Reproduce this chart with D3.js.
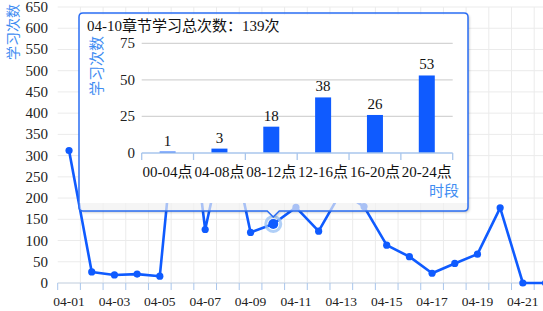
<!DOCTYPE html>
<html>
<head>
<meta charset="utf-8">
<script src="https://cdn.jsdelivr.net/npm/d3@7"></script>
<style>
  body { margin: 0; background: #fff; }
  svg { display: block; font-family: "Liberation Serif", "Noto Sans CJK SC", serif; }
</style>
</head>
<body>
<svg id="chart" width="543" height="311"></svg>
<script>
// daily totals
const days = ['04-01', '04-02', '04-03', '04-04', '04-05', '04-06', '04-07', '04-08', '04-09', '04-10', '04-11',
    '04-12', '04-13', '04-14', '04-15', '04-16', '04-17', '04-18', '04-19', '04-20', '04-21', '04-22']
const dayCounts = [312, 26, 19, 21, 16, 560, 126, 370, 119, 139, 178, 122, 215, 180, 89, 62, 23, 46, 68, 177, 0, 0]
const yTicks = d3.range(0, 651, 50)

// tooltip breakdown for hovered day
const hoverDay = '04-10'
const slots = ['00-04点', '04-08点', '08-12点', '12-16点', '16-20点', '20-24点']
const slotCounts = [1, 3, 18, 38, 26, 53]
const innerTicks = [0, 25, 50, 75]

const BLUE = '#0f5bff'
const NAME_BLUE = '#3f8df2'
const svg = d3.select('#chart')

const x = d3.scaleBand().domain(days).range([57.7, 57.7 + 22 * 22.69])
const y = d3.scaleLinear().domain([0, 650]).range([283, 7])
const cx = d => x(d) + x.bandwidth() / 2

// grid
svg.append('g').selectAll('line.h')
    .data(yTicks).enter().append('line')
    .attr('x1', x.range()[0]).attr('x2', x.range()[1])
    .attr('y1', d => y(d)).attr('y2', d => y(d))
    .style('stroke', '#ebebeb')
svg.append('g').selectAll('line.v')
    .data(days.slice(1).concat(['end'])).enter().append('line')
    .attr('x1', (d, i) => x.range()[0] + (i + 1) * x.bandwidth())
    .attr('x2', (d, i) => x.range()[0] + (i + 1) * x.bandwidth())
    .attr('y1', y(650)).attr('y2', y(0))
    .style('stroke', '#ebebeb')

// y axis labels
svg.append('g').selectAll('text')
    .data(yTicks).enter().append('text')
    .attr('x', 48).attr('y', d => y(d) + 5)
    .attr('text-anchor', 'end')
    .style('font-size', '15px').style('fill', '#222')
    .text(d => d)

svg.append('text')
    .attr('transform', 'translate(17.5,32) rotate(-90)')
    .attr('text-anchor', 'middle')
    .style('font-size', '14px').style('fill', NAME_BLUE)
    .text('学习次数')

// x axis
svg.append('line')
    .attr('x1', x.range()[0]).attr('x2', x.range()[1])
    .attr('y1', y(0)).attr('y2', y(0))
    .style('stroke', '#c9d6e6')
svg.append('g').selectAll('line')
    .data(d3.range(days.length + 1)).enter().append('line')
    .attr('x1', i => x.range()[0] + i * x.bandwidth())
    .attr('x2', i => x.range()[0] + i * x.bandwidth())
    .attr('y1', y(0)).attr('y2', y(0) + 7)
    .style('stroke', '#a9c6ec')
svg.append('g').selectAll('text')
    .data(days.filter((d, i) => i % 2 === 0)).enter().append('text')
    .attr('x', d => cx(d)).attr('y', 305.5)
    .attr('text-anchor', 'middle')
    .style('font-size', '13.5px').style('fill', '#222')
    .text(d => d)

// line + points
svg.append('path')
    .datum(dayCounts)
    .attr('d', d3.line().x((d, i) => cx(days[i])).y(d => y(d)))
    .style('fill', 'none').style('stroke', BLUE).style('stroke-width', 2.6)
    .style('stroke-linejoin', 'round')
svg.append('g').selectAll('circle')
    .data(dayCounts).enter().append('circle')
    .attr('cx', (d, i) => cx(days[i])).attr('cy', d => y(d))
    .attr('r', 3.6)
    .style('fill', BLUE)

const hi = days.indexOf(hoverDay)
svg.append('circle')
    .attr('cx', cx(hoverDay)).attr('cy', y(dayCounts[hi]))
    .attr('r', 7.5)
    .style('fill', 'none').style('stroke', '#9cc3f5').style('stroke-width', 3).style('opacity', 0.8)
svg.append('circle')
    .attr('cx', cx(hoverDay)).attr('cy', y(dayCounts[hi]))
    .attr('r', 5)
    .style('fill', BLUE)

// tooltip
const box = { l: 79, t: 13, r: 468, b: 211 }
const ax = cx(hoverDay)
const r = 4
const defs = svg.append('defs')
defs.append('filter').attr('id', 'shadow')
    .attr('x', '-5%').attr('y', '-5%').attr('width', '115%').attr('height', '115%')
    .append('feDropShadow')
    .attr('dx', 1.5).attr('dy', 1.5).attr('stdDeviation', 1)
    .attr('flood-color', '#000').attr('flood-opacity', 0.35)

const tipPath = `M${box.l + r},${box.t} H${box.r - r} Q${box.r},${box.t} ${box.r},${box.t + r}
    V${box.b - r} Q${box.r},${box.b} ${box.r - r},${box.b} H${ax + 6} L${ax},${box.b + 6} L${ax - 6},${box.b}
    H${box.l + r} Q${box.l},${box.b} ${box.l},${box.b - r} V${box.t + r} Q${box.l},${box.t} ${box.l + r},${box.t} Z`

const tip = svg.append('g')
tip.append('path').attr('d', tipPath)
    .style('fill', '#fff').style('fill-opacity', 0.6)
    .style('filter', 'url(#shadow)')
tip.append('rect')
    .attr('x', box.l).attr('y', box.t + 2).attr('width', box.r - box.l).attr('height', 203 - box.t - 2)
    .style('fill', '#fff')
tip.append('path').attr('d', tipPath)
    .style('fill', 'none').style('stroke', '#2a6df4').style('stroke-width', 1.5)

tip.append('text')
    .attr('x', 87).attr('y', 31)
    .style('font-size', '15px').style('fill', '#111')
    .text(`${hoverDay}章节学习总次数：${d3.sum(slotCounts)}次`)

const ix = d3.scaleBand().domain(slots).range([141.7, 452.7])
const iy = d3.scaleLinear().domain([0, 75]).range([153, 43.3])

tip.append('g').selectAll('line')
    .data(innerTicks.slice(1)).enter().append('line')
    .attr('x1', ix.range()[0]).attr('x2', ix.range()[1])
    .attr('y1', d => iy(d)).attr('y2', d => iy(d))
    .style('stroke', '#d4d4d4').style('stroke-width', 1.3)
tip.append('g').selectAll('text')
    .data(innerTicks).enter().append('text')
    .attr('x', 135).attr('y', d => iy(d) + 5)
    .attr('text-anchor', 'end')
    .style('font-size', '15px').style('fill', '#222')
    .text(d => d)
tip.append('text')
    .attr('transform', 'translate(102,66) rotate(-90)')
    .attr('text-anchor', 'middle')
    .style('font-size', '15px').style('fill', NAME_BLUE)
    .text('学习次数')

tip.append('g').selectAll('rect')
    .data(slotCounts).enter().append('rect')
    .attr('x', (d, i) => ix(slots[i]) + ix.bandwidth() / 2 - 8)
    .attr('y', d => iy(d))
    .attr('width', 16)
    .attr('height', d => iy(0) - iy(d))
    .style('fill', BLUE)
tip.append('g').selectAll('text')
    .data(slotCounts).enter().append('text')
    .attr('x', (d, i) => ix(slots[i]) + ix.bandwidth() / 2)
    .attr('y', d => iy(d) - 6)
    .attr('text-anchor', 'middle')
    .style('font-size', '15px').style('fill', '#111')
    .text(d => d)

tip.append('line')
    .attr('x1', ix.range()[0]).attr('x2', ix.range()[1])
    .attr('y1', iy(0)).attr('y2', iy(0))
    .style('stroke', '#a9c6ec').style('stroke-width', 1.3)
tip.append('g').selectAll('line.t')
    .data(d3.range(slots.length + 1)).enter().append('line')
    .attr('x1', i => ix.range()[0] + i * ix.bandwidth())
    .attr('x2', i => ix.range()[0] + i * ix.bandwidth())
    .attr('y1', iy(0)).attr('y2', iy(0) + 7)
    .style('stroke', '#a9c6ec').style('stroke-width', 1.3)
tip.append('g').selectAll('text.x')
    .data(slots).enter().append('text')
    .attr('x', d => ix(d) + ix.bandwidth() / 2).attr('y', 177)
    .attr('text-anchor', 'middle')
    .style('font-size', '15px').style('fill', '#111')
    .text(d => d)
tip.append('text')
    .attr('x', 459).attr('y', 196)
    .attr('text-anchor', 'end')
    .style('font-size', '15px').style('fill', NAME_BLUE)
    .text('时段')
</script>
</body>
</html>
